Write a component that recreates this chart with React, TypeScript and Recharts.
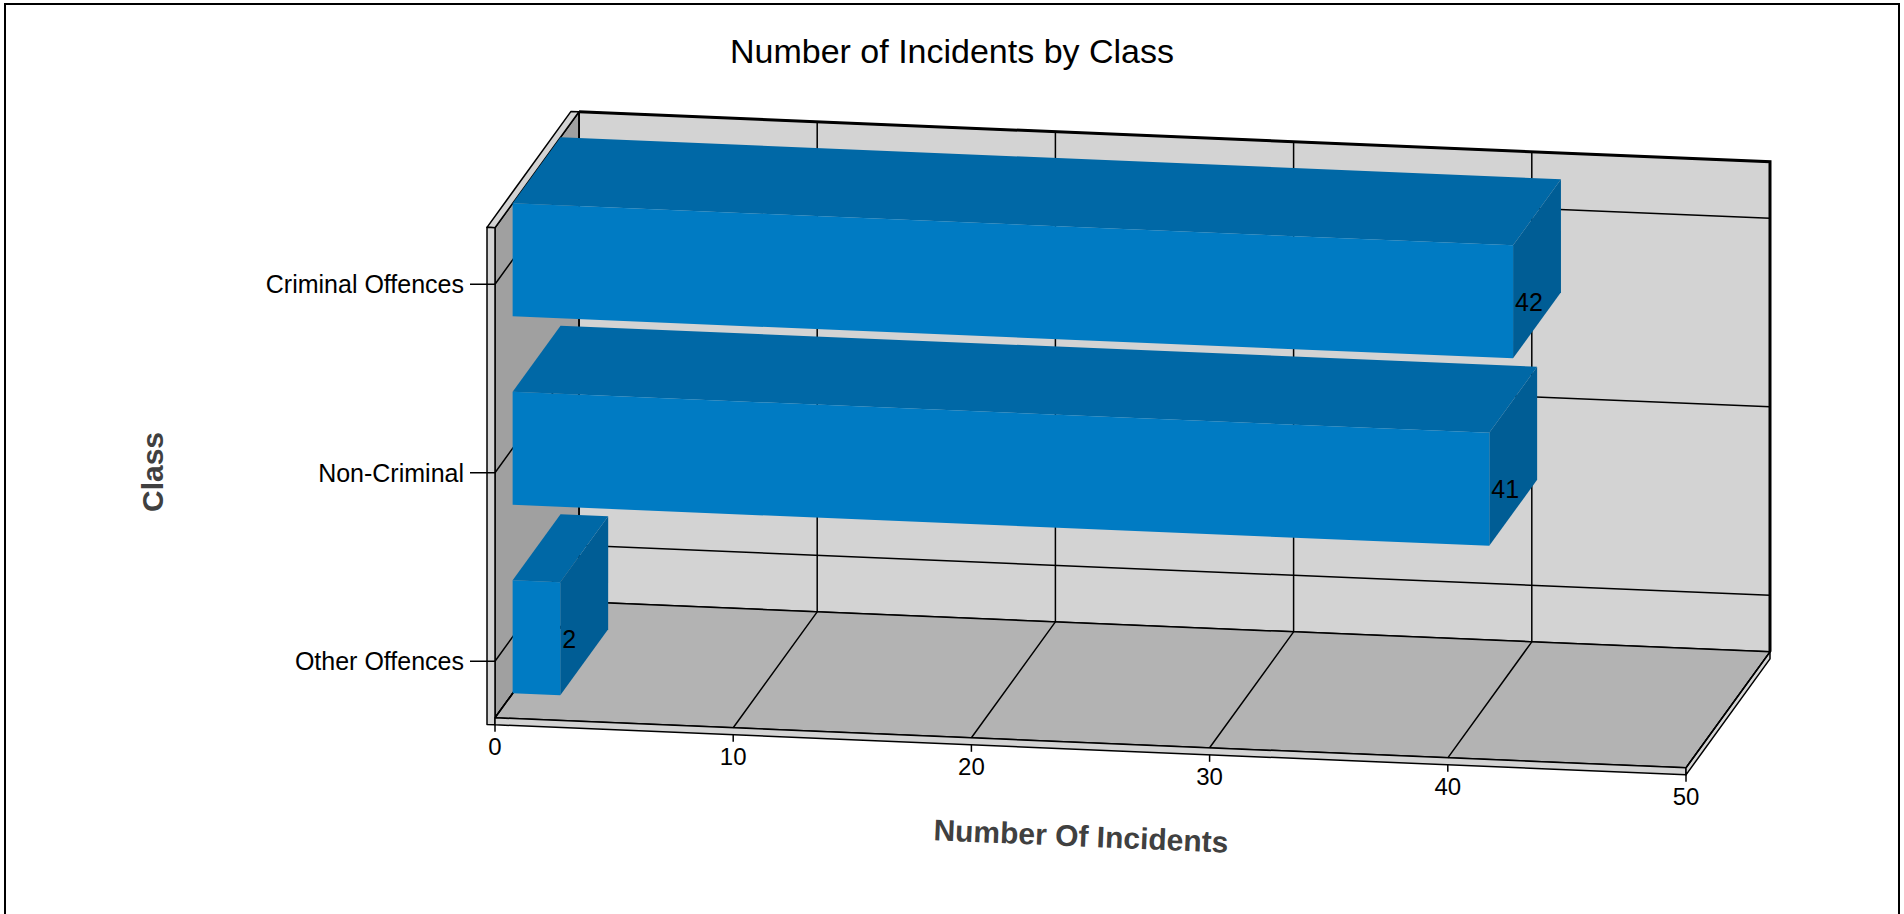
import { BarChart, Bar, XAxis, YAxis, CartesianGrid } from "recharts";

const classes = ["Criminal Offences", "Non-Criminal", "Other Offences"];
const incidents = [42, 41, 2];
const valueTicks = [0, 10, 20, 30, 40, 50];

const data = classes.map((name, i) => ({ name, count: incidents[i] }));

// page / plot geometry (front plane of the 3D box)
const W = 1904;
const H = 914;
const PLOT_LEFT = 495;
const PLOT_RIGHT = 1686;
const PLOT_TOP = 190;
const PLOT_BOTTOM = 755.5;
const Y_AXIS_W = 100;
const X_AXIS_H = 40;
const BAND = (PLOT_BOTTOM - PLOT_TOP) / classes.length;
const WALL_TOP = PLOT_TOP + 0.2 * BAND;
const FLOOR = PLOT_BOTTOM - 0.2 * BAND;

// oblique projection: depth offset + slight shear
const DX = 84;
const DY = 119.5;
const SHEAR = 0.042;
const D1 = 0.21; // bar front depth
const D2 = 0.78; // bar back depth
const WALL_T = 8;
const SLAB = 7;

const FRONT_C = "#007bc3";
const TOP_C = "#0068a6";
const SIDE_C = "#005d95";
const FONT = "'Liberation Sans', Arial, sans-serif";

const proj = (x: number, y: number, d: number): [number, number] => {
  const px = x + DX * d;
  return [px, y - DY * d + SHEAR * (px - PLOT_LEFT)];
};
const pts = (arr: [number, number][]) => arr.map((p) => p.join(",")).join(" ");

function Frame() {
  const L = PLOT_LEFT;
  const R = PLOT_RIGHT;
  const edge = { stroke: "#000", strokeWidth: 1.5, strokeLinejoin: "round" as const };
  const backWall = [proj(L, WALL_TOP, 1), proj(R, WALL_TOP, 1), proj(R, FLOOR, 1), proj(L, FLOOR, 1)];
  const sideWall = [proj(L, WALL_TOP, 0), proj(L, WALL_TOP, 1), proj(L, FLOOR, 1), proj(L, FLOOR, 0)];
  const floor = [proj(L, FLOOR, 0), proj(R, FLOOR, 0), proj(R, FLOOR, 1), proj(L, FLOOR, 1)];
  const wallTop = [
    proj(L - WALL_T, WALL_TOP, 0),
    proj(L - WALL_T, WALL_TOP, 1),
    proj(L, WALL_TOP, 1),
    proj(L, WALL_TOP, 0),
  ];
  const wallFront = [
    proj(L - WALL_T, WALL_TOP, 0),
    proj(L, WALL_TOP, 0),
    proj(L, FLOOR + SLAB, 0),
    proj(L - WALL_T, FLOOR + SLAB, 0),
  ];
  const fl0 = proj(L, FLOOR, 0);
  const fr0 = proj(R, FLOOR, 0);
  const fr1 = proj(R, FLOOR, 1);
  const slabFront: [number, number][] = [fl0, fr0, [fr0[0], fr0[1] + SLAB], [fl0[0], fl0[1] + SLAB]];
  const slabRight: [number, number][] = [fr0, fr1, [fr1[0], fr1[1] + SLAB], [fr0[0], fr0[1] + SLAB]];
  const topEdge = [proj(L, WALL_TOP, 1), proj(R, WALL_TOP, 1), proj(R, FLOOR, 1)];

  return (
    <svg width={W} height={H} style={{ position: "absolute", left: 0, top: 0 }}>
      <text x={952} y={51} dy="0.35em" textAnchor="middle" fontSize={34} fill="#000">
        Number of Incidents by Class
      </text>
      <polygon points={pts(backWall)} fill="#d3d3d3" {...edge} />
      <polygon points={pts(sideWall)} fill="#a0a0a0" {...edge} />
      <polygon points={pts(floor)} fill="#b3b3b3" {...edge} />
      <polygon points={pts(wallTop)} fill="#d3d3d3" {...edge} />
      <polygon points={pts(wallFront)} fill="#d3d3d3" {...edge} />
      <polygon points={pts(slabFront)} fill="#d3d3d3" {...edge} />
      <polygon points={pts(slabRight)} fill="#d3d3d3" {...edge} />
      <polyline points={pts(topEdge)} fill="none" stroke="#000" strokeWidth={3} />
      <text
        x={152}
        y={472}
        dy="0.35em"
        textAnchor="middle"
        fontSize={30}
        fontWeight="bold"
        fill="#404040"
        transform="rotate(-90 152 472)"
      >
        Class
      </text>
      <text
        x={1081}
        y={836}
        dy="0.35em"
        textAnchor="middle"
        fontSize={30}
        fontWeight="bold"
        fill="#404040"
        transform="rotate(2.4 1081 836)"
      >
        Number Of Incidents
      </text>
    </svg>
  );
}

function Bar3D(props: any) {
  const { x, y, width, height, payload } = props;
  const xr = x + width;
  const yb = y + height;
  const front = [proj(x, y, D1), proj(xr, y, D1), proj(xr, yb, D1), proj(x, yb, D1)];
  const b0 = proj(x, y, D2);
  const b1 = proj(xr, y, D2);
  const b2 = proj(xr, yb, D2);
  const top = [front[0], front[1], b1, b0];
  const side = [front[1], b1, b2, front[2]];
  const lab = proj(xr, y + height / 2, D1);
  return (
    <g>
      <polygon points={pts(top)} fill={TOP_C} />
      <polygon points={pts(side)} fill={SIDE_C} />
      <polygon points={pts(front)} fill={FRONT_C} />
      <text x={lab[0] + 2} y={lab[1]} dy="0.35em" fontSize={25} fill="#000" fontFamily={FONT}>
        {payload.count}
      </text>
    </g>
  );
}

function ValueTick(props: any) {
  const { x, payload } = props;
  const [px, py] = proj(x, FLOOR + SLAB, 0);
  return (
    <g>
      <line x1={px} y1={py} x2={px} y2={py + 7} stroke="#000" strokeWidth={1.5} />
      <text x={px} y={py + 22} dy="0.35em" textAnchor="middle" fontSize={24} fill="#000" fontFamily={FONT}>
        {payload.value}
      </text>
    </g>
  );
}

function ClassTick(props: any) {
  const { y, payload } = props;
  return (
    <g>
      <line x1={PLOT_LEFT - 25} y1={y} x2={PLOT_LEFT} y2={y} stroke="#000" strokeWidth={1.5} />
      <text x={PLOT_LEFT - 31} y={y} dy="0.35em" textAnchor="end" fontSize={25} fill="#000" fontFamily={FONT}>
        {payload.value}
      </text>
    </g>
  );
}

// value gridlines: across the floor, then up the back wall
const valueGrid = (p: any) => {
  const a = proj(p.x1, FLOOR, 0);
  const b = proj(p.x1, FLOOR, 1);
  const c = proj(p.x1, WALL_TOP, 1);
  return <polyline key={`v-${p.index}`} points={pts([a, b, c])} fill="none" stroke="#000" strokeWidth={1.5} />;
};

// class gridlines: across the left wall, then along the back wall
const classGrid = (p: any) => {
  const a = proj(PLOT_LEFT, p.y1, 0);
  const b = proj(PLOT_LEFT, p.y1, 1);
  const c = proj(PLOT_RIGHT, p.y1, 1);
  return <polyline key={`h-${p.index}`} points={pts([a, b, c])} fill="none" stroke="#000" strokeWidth={1.5} />;
};

const classGridCoords = (args: any) => {
  try {
    const scale = args.yAxis.scale;
    const bw = scale.bandwidth ? scale.bandwidth() : 0;
    const out = classes.map((c) => scale(c) + bw / 2);
    if (out.every((v) => Number.isFinite(v))) return out;
  } catch (e) {
    // fall through
  }
  return classes.map((_, i) => PLOT_TOP + BAND * (i + 0.5));
};

export default function App() {
  return (
    <div
      style={{
        position: "absolute",
        left: 0,
        top: 0,
        width: W,
        height: H,
        overflow: "hidden",
        background: "#fff",
        fontFamily: FONT,
      }}
    >
      <div
        style={{
          position: "absolute",
          left: 4,
          top: 3,
          width: 1896,
          height: 1000,
          border: "2px solid #000",
          boxSizing: "border-box",
        }}
      />
      <Frame />
      <div style={{ position: "absolute", left: 0, top: 0 }}>
        <BarChart
          width={W}
          height={H}
          data={data}
          layout="vertical"
          barCategoryGap="20%"
          margin={{
            top: PLOT_TOP,
            right: W - PLOT_RIGHT,
            bottom: H - PLOT_BOTTOM - X_AXIS_H,
            left: PLOT_LEFT - Y_AXIS_W,
          }}
        >
          <CartesianGrid
            vertical={valueGrid}
            horizontal={classGrid}
            horizontalCoordinatesGenerator={classGridCoords}
          />
          <XAxis
            type="number"
            domain={[0, 50]}
            ticks={valueTicks}
            interval={0}
            axisLine={false}
            tickLine={false}
            height={X_AXIS_H}
            tick={(p: any) => <ValueTick {...p} />}
          />
          <YAxis
            type="category"
            dataKey="name"
            width={Y_AXIS_W}
            interval={0}
            axisLine={false}
            tickLine={false}
            tick={(p: any) => <ClassTick {...p} />}
          />
          <Bar dataKey="count" shape={Bar3D} isAnimationActive={false} />
        </BarChart>
      </div>
    </div>
  );
}
